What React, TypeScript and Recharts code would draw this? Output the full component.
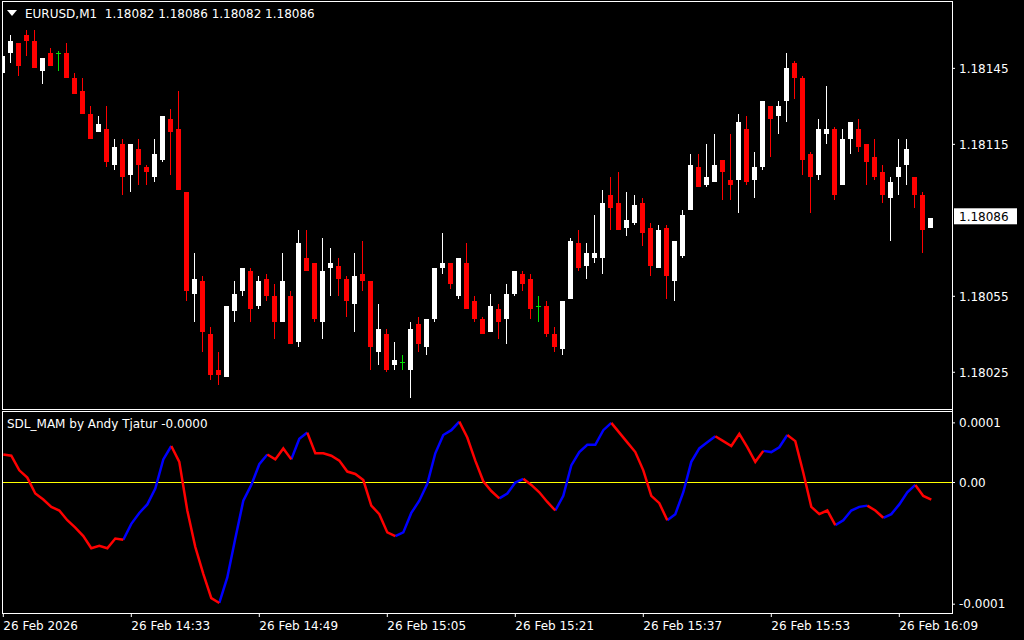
import React from 'react';
import { ComposedChart, Bar, Line, XAxis, YAxis, ReferenceLine } from 'recharts';

const FONT = "'DejaVu Sans', sans-serif";
const SYMBOL = 'EURUSD,M1';
const SDL_NAME = 'SDL_MAM by Andy Tjatur';

// EURUSD M1 bars, 14:17 .. 16:13
const OPEN = [
  1.18143, 1.18151, 1.18155, 1.18158, 1.18156, 1.18144, 1.18151, 1.18151, 1.18151, 1.18141,
  1.18136, 1.18127, 1.18120, 1.18121, 1.18107, 1.18115, 1.18103, 1.18113, 1.18106, 1.18102,
  1.18109, 1.18125, 1.18121, 1.18096, 1.18056, 1.18061, 1.18040, 1.18026, 1.18023, 1.18049,
  1.18057, 1.18065, 1.18051, 1.18062, 1.18055, 1.18045, 1.18055, 1.18037, 1.18070, 1.18068,
  1.18045, 1.18066, 1.18067, 1.18062, 1.18052, 1.18064, 1.18061, 1.18033, 1.18040, 1.18028,
  1.18029, 1.18026, 1.18044, 1.18035, 1.18046, 1.18066, 1.18068, 1.18055, 1.18068, 1.18053,
  1.18046, 1.18041, 1.18050, 1.18046, 1.18056, 1.18064, 1.18062, 1.18051, 1.18051, 1.18040,
  1.18034, 1.18054, 1.18076, 1.18067, 1.18070, 1.18070, 1.18095, 1.18092, 1.18082, 1.18084,
  1.18092, 1.18082, 1.18066, 1.18082, 1.18061, 1.18071, 1.18089, 1.18106, 1.18099, 1.18100,
  1.18109, 1.18101, 1.18101, 1.18121, 1.18101, 1.18106, 1.18130, 1.18126, 1.18132, 1.18147,
  1.18141, 1.18111, 1.18103, 1.18119, 1.18121, 1.18099, 1.18117, 1.18121, 1.18115, 1.18110,
  1.18104, 1.18094, 1.18102, 1.18107, 1.18102, 1.18095, 1.18082,
];
const HIGH = [
  1.18152, 1.18158, 1.18155, 1.18160, 1.18160, 1.18149, 1.18153, 1.18152, 1.18155, 1.18143,
  1.18141, 1.18130, 1.18126, 1.18130, 1.18117, 1.18117, 1.18115, 1.18117, 1.18107, 1.18117,
  1.18126, 1.18129, 1.18136, 1.18096, 1.18072, 1.18063, 1.18043, 1.18033, 1.18051, 1.18061,
  1.18066, 1.18066, 1.18063, 1.18064, 1.18060, 1.18072, 1.18057, 1.18081, 1.18081, 1.18068,
  1.18078, 1.18074, 1.18070, 1.18063, 1.18072, 1.18077, 1.18061, 1.18052, 1.18042, 1.18037,
  1.18032, 1.18045, 1.18047, 1.18046, 1.18066, 1.18080, 1.18068, 1.18070, 1.18076, 1.18055,
  1.18047, 1.18056, 1.18052, 1.18060, 1.18065, 1.18065, 1.18064, 1.18055, 1.18053, 1.18043,
  1.18053, 1.18078, 1.18081, 1.18076, 1.18087, 1.18097, 1.18102, 1.18104, 1.18096, 1.18095,
  1.18094, 1.18084, 1.18083, 1.18083, 1.18077, 1.18089, 1.18111, 1.18111, 1.18115, 1.18119,
  1.18109, 1.18119, 1.18127, 1.18126, 1.18112, 1.18132, 1.18130, 1.18132, 1.18151, 1.18148,
  1.18142, 1.18112, 1.18125, 1.18138, 1.18122, 1.18121, 1.18124, 1.18125, 1.18115, 1.18117,
  1.18107, 1.18102, 1.18117, 1.18117, 1.18102, 1.18096, 1.18086,
];
const LOW = [
  1.18141, 1.18147, 1.18142, 1.18150, 1.18145, 1.18139, 1.18146, 1.18144, 1.18141, 1.18135,
  1.18127, 1.18117, 1.18120, 1.18106, 1.18105, 1.18095, 1.18096, 1.18099, 1.18099, 1.18100,
  1.18108, 1.18103, 1.18097, 1.18053, 1.18045, 1.18033, 1.18022, 1.18020, 1.18023, 1.18045,
  1.18055, 1.18045, 1.18050, 1.18053, 1.18038, 1.18045, 1.18036, 1.18035, 1.18065, 1.18045,
  1.18038, 1.18055, 1.18055, 1.18047, 1.18041, 1.18057, 1.18026, 1.18028, 1.18025, 1.18026,
  1.18026, 1.18015, 1.18033, 1.18032, 1.18045, 1.18064, 1.18058, 1.18054, 1.18050, 1.18045,
  1.18040, 1.18041, 1.18038, 1.18036, 1.18055, 1.18057, 1.18046, 1.18045, 1.18039, 1.18033,
  1.18032, 1.18054, 1.18065, 1.18062, 1.18068, 1.18064, 1.18081, 1.18081, 1.18079, 1.18083,
  1.18075, 1.18063, 1.18066, 1.18054, 1.18053, 1.18070, 1.18089, 1.18098, 1.18098, 1.18100,
  1.18093, 1.18093, 1.18088, 1.18099, 1.18094, 1.18105, 1.18110, 1.18119, 1.18124, 1.18133,
  1.18103, 1.18088, 1.18101, 1.18115, 1.18093, 1.18099, 1.18111, 1.18112, 1.18099, 1.18101,
  1.18092, 1.18077, 1.18095, 1.18099, 1.18090, 1.18072, 1.18082,
];
const CLOSE = [
  1.18150, 1.18156, 1.18146, 1.18156, 1.18145, 1.18149, 1.18146, 1.18151, 1.18141, 1.18135,
  1.18127, 1.18117, 1.18123, 1.18108, 1.18114, 1.18102, 1.18115, 1.18107, 1.18104, 1.18111,
  1.18126, 1.18120, 1.18097, 1.18057, 1.18062, 1.18041, 1.18024, 1.18024, 1.18051, 1.18056,
  1.18066, 1.18050, 1.18061, 1.18055, 1.18045, 1.18061, 1.18036, 1.18076, 1.18065, 1.18046,
  1.18065, 1.18068, 1.18062, 1.18053, 1.18063, 1.18061, 1.18035, 1.18042, 1.18026, 1.18030,
  1.18029, 1.18042, 1.18036, 1.18046, 1.18066, 1.18068, 1.18060, 1.18070, 1.18050, 1.18046,
  1.18040, 1.18051, 1.18045, 1.18056, 1.18065, 1.18060, 1.18050, 1.18051, 1.18040, 1.18035,
  1.18053, 1.18077, 1.18066, 1.18072, 1.18072, 1.18092, 1.18090, 1.18081, 1.18085, 1.18091,
  1.18080, 1.18067, 1.18081, 1.18063, 1.18077, 1.18087, 1.18107, 1.18098, 1.18102, 1.18107,
  1.18104, 1.18099, 1.18124, 1.18100, 1.18106, 1.18132, 1.18125, 1.18130, 1.18145, 1.18141,
  1.18109, 1.18102, 1.18121, 1.18121, 1.18095, 1.18117, 1.18124, 1.18114, 1.18108, 1.18102,
  1.18095, 1.18100, 1.18106, 1.18113, 1.18095, 1.18081, 1.18086,
];

// SDL_MAM value per bar, in units of 0.000001
const SDL = [
  23, 22, 10, 4, -9, -14, -20, -23, -31, -37,
  -44, -54, -52, -54, -46, -47, -34, -25, -18, -5,
  19, 30, 17, -23, -53, -75, -95, -99, -78, -46,
  -15, -2, 15, 23, 19, 28, 19, 36, 41, 24,
  24, 22, 18, 9, 7, 2, -19, -26, -41, -44,
  -41, -25, -15, -1, 24, 39, 43, 50, 37, 18,
  1, -7, -13, -9, 0, 3, -2, -8, -16, -23,
  -11, 14, 25, 31, 31, 43, 49, 41, 33, 25,
  10, -11, -17, -31, -26, -8, 17, 28, 33, 38,
  34, 30, 40, 29, 17, 26, 25, 29, 39, 34,
  8, -20, -26, -23, -35, -31, -23, -20, -19, -23,
  -29, -26, -18, -8, -2, -11, -14,
];
// trend colour of the segment ending at each bar: 1 = up (blue), -1 = down (red)
const SDL_TREND = [
  -1, -1, -1, -1, -1, -1, -1, -1, -1, -1,
  -1, -1, -1, -1, -1, -1, 1, 1, 1, 1,
  1, 1, -1, -1, -1, -1, -1, -1, 1, 1,
  1, 1, 1, 1, -1, -1, -1, 1, 1, -1,
  -1, -1, -1, -1, -1, -1, -1, -1, -1, -1,
  1, 1, 1, 1, 1, 1, 1, 1, -1, -1,
  -1, -1, -1, 1, 1, 1, -1, -1, -1, -1,
  1, 1, 1, 1, 1, 1, 1, -1, -1, -1,
  -1, -1, -1, -1, 1, 1, 1, 1, 1, 1,
  -1, -1, -1, -1, -1, -1, 1, 1, 1, -1,
  -1, -1, -1, -1, -1, 1, 1, 1, 1, -1,
  -1, 1, 1, 1, 1, -1, -1,
];

const PRICE_TICKS = [1.18025, 1.18055, 1.18115, 1.18145];
const PRICE_DOMAIN = [1.180105, 1.181716];
const SDL_TICKS = [49, 0, -100];
const SDL_TICK_LABELS = ['0.0001', '0.00', '-0.0001'];
const SDL_DOMAIN = [-107.24, 58.76];
const TIME_TICKS = [0, 16, 32, 48, 64, 80, 96, 112];
const TIME_LABELS = [
  '26 Feb 2026', '26 Feb 14:33', '26 Feb 14:49', '26 Feb 15:05',
  '26 Feb 15:21', '26 Feb 15:37', '26 Feb 15:53', '26 Feb 16:09',
];
const X_DOMAIN = [-0.1625, 118.5875];

const last = OPEN.length - 1;
const LAST_PRICE = CLOSE[last];

const candles = OPEN.map((o, i) => ({
  i,
  open: o,
  high: HIGH[i],
  low: LOW[i],
  close: CLOSE[i],
  range: [LOW[i], HIGH[i]],
}));

const sdlData = SDL.map((v, i) => {
  const segIn = i > 0 ? SDL_TREND[i] : 0;
  const segOut = SDL_TREND[i + 1];
  return {
    i,
    up: segIn === 1 || segOut === 1 ? v : null,
    dn: segIn === -1 || segOut === -1 ? v : null,
  };
});

function Candle(props: any) {
  const { x, y, width, height, payload } = props;
  if (!payload) return null;
  const top = Math.min(y, y + height);
  const bot = Math.max(y, y + height);
  const k = (bot - top) / (payload.high - payload.low);
  const py = (p: number) => top + (payload.high - p) * k;
  const cx = Math.floor(x + width / 2);
  const doji = payload.close === payload.open;
  const color = doji ? '#00e000' : payload.close > payload.open ? '#ffffff' : '#ff0000';
  const bTop = Math.round(py(Math.max(payload.open, payload.close)));
  const bBot = Math.round(py(Math.min(payload.open, payload.close)));
  const wTop = Math.round(top);
  const wBot = Math.round(bot);
  return (
    <g shapeRendering="crispEdges">
      <rect x={cx} y={wTop} width={1} height={Math.max(1, wBot - wTop)} fill={color} />
      <rect x={cx - 2} y={bTop} width={5} height={Math.max(1, bBot - bTop)} fill={color} />
    </g>
  );
}

function PriceTag(props: any) {
  const { viewBox } = props;
  if (!viewBox) return null;
  const x = viewBox.x + viewBox.width + 2;
  const y = viewBox.y;
  return (
    <g>
      <rect x={x} y={y - 9.5} width={63} height={16} fill="#fff" />
      <text x={x + 5} y={y - 1.2} dy="0.355em" fill="#000" fontSize={12} fontFamily={FONT}>
        {LAST_PRICE.toFixed(5)}
      </text>
    </g>
  );
}

function TimeTick(props: any) {
  const { x, y, payload } = props;
  const k = TIME_TICKS.indexOf(payload.value);
  return (
    <text x={x} y={y} dy="0.71em" textAnchor="start" fill="#fff" fontSize={12} fontFamily={FONT}>
      {TIME_LABELS[k]}
    </text>
  );
}

const tickStyle = { fill: '#fff', fontSize: 12, fontFamily: FONT };

function PriceChart() {
  return (
    <ComposedChart width={1024} height={410} data={candles} margin={{ top: 1, right: 0, bottom: 1, left: 2 }}>
      <XAxis dataKey="i" type="number" domain={X_DOMAIN} allowDataOverflow hide />
      <YAxis
        orientation="right"
        width={72}
        domain={PRICE_DOMAIN}
        ticks={PRICE_TICKS}
        interval={0}
        allowDataOverflow
        axisLine={false}
        tickLine={{ stroke: '#fff' }}
        tickSize={3}
        tickMargin={4}
        tick={tickStyle}
        tickFormatter={(v) => Number(v).toFixed(5)}
      />
      <Bar dataKey="range" barSize={5} shape={<Candle />} isAnimationActive={false} />
      <ReferenceLine y={LAST_PRICE} stroke="none" label={<PriceTag />} />
    </ComposedChart>
  );
}

function SdlChart() {
  return (
    <ComposedChart width={1024} height={229} data={sdlData} margin={{ top: 0, right: 0, bottom: 0, left: 2 }}>
      <XAxis
        dataKey="i"
        type="number"
        domain={X_DOMAIN}
        allowDataOverflow
        ticks={TIME_TICKS}
        interval={0}
        height={27}
        axisLine={false}
        tickLine={{ stroke: '#fff' }}
        tickSize={4}
        tickMargin={4}
        tick={<TimeTick />}
      />
      <YAxis
        orientation="right"
        width={72}
        domain={SDL_DOMAIN}
        ticks={SDL_TICKS}
        interval={0}
        allowDataOverflow
        axisLine={false}
        tickLine={{ stroke: '#fff' }}
        tickSize={3}
        tickMargin={4}
        tick={tickStyle}
        tickFormatter={(v) => SDL_TICK_LABELS[SDL_TICKS.indexOf(v)]}
      />
      <ReferenceLine y={0} stroke="#ffff00" strokeWidth={1} shapeRendering="crispEdges" />
      <Line dataKey="up" type="linear" stroke="#0000ff" strokeWidth={2.5} dot={false} connectNulls={false} isAnimationActive={false} />
      <Line dataKey="dn" type="linear" stroke="#ff0000" strokeWidth={2.5} dot={false} connectNulls={false} isAnimationActive={false} />
    </ComposedChart>
  );
}

const rule = (left: number, top: number, width: number, height: number) => (
  <div key={`${left}-${top}-${width}-${height}`} style={{ position: 'absolute', left, top, width, height, background: '#fff' }} />
);

export default function App() {
  const ohlc = [OPEN[last], HIGH[last], LOW[last], CLOSE[last]].map((v) => v.toFixed(5)).join(' ');
  const sdlLast = (SDL[last] / 1e6).toFixed(4);
  return (
    <div style={{ position: 'fixed', left: 0, top: 0, width: 1024, height: 640, background: '#000', overflow: 'hidden', fontFamily: FONT }}>
      <div style={{ position: 'absolute', left: 0, top: 0 }}>
        <PriceChart />
      </div>
      <div style={{ position: 'absolute', left: 0, top: 411 }}>
        <SdlChart />
      </div>

      {rule(2, 1, 950, 1)}
      {rule(2, 1, 1, 409)}
      {rule(2, 409, 950, 1)}
      {rule(952, 1, 1, 613)}
      {rule(2, 411, 950, 1)}
      {rule(2, 411, 1, 203)}
      {rule(2, 613, 951, 1)}

      <div style={{
        position: 'absolute', left: 7, top: 10, width: 0, height: 0,
        borderLeft: '5px solid transparent', borderRight: '5px solid transparent', borderTop: '6px solid #fff',
      }} />
      <div style={{ position: 'absolute', left: 25, top: 6.5, color: '#fff', fontSize: 12, lineHeight: '14px', whiteSpace: 'pre' }}>
        {`${SYMBOL}  ${ohlc}`}
      </div>
      <div style={{ position: 'absolute', left: 7, top: 417, color: '#fff', fontSize: 12, lineHeight: '14px', whiteSpace: 'pre' }}>
        {`${SDL_NAME} ${sdlLast}`}
      </div>
    </div>
  );
}
